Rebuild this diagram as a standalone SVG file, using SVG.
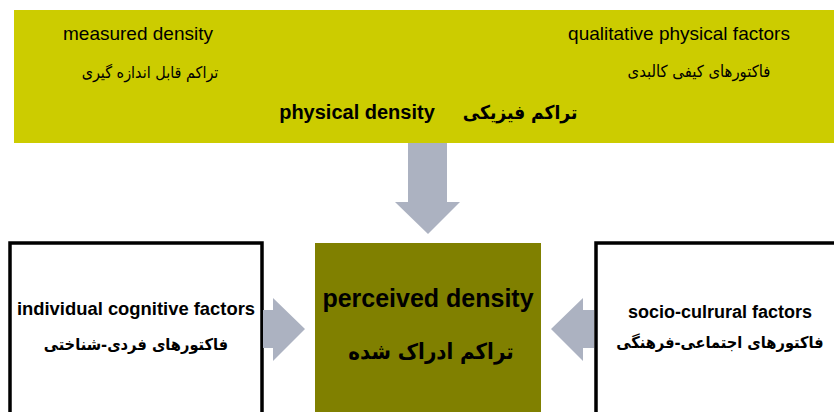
<svg xmlns="http://www.w3.org/2000/svg" width="834" height="412" viewBox="0 0 834 412">
<style>
.en{font-family:"Liberation Sans",Arial,sans-serif;fill:#000;text-anchor:middle}
.fa{font-family:"DejaVu Sans Condensed","DejaVu Sans",sans-serif;font-stretch:condensed;fill:#000;text-anchor:middle;direction:rtl}
.b{font-weight:bold}
.arrow{fill:#ACB2C1}
.box{fill:#fff;stroke:#000;stroke-width:3.5}
</style>
<rect width="834" height="412" fill="#fff"/>
<g id="physical">
<rect x="14" y="10" width="820" height="133" fill="#CCCC00"/>
<text class="en" x="138" y="40" font-size="19">measured density</text>
<text class="fa" x="150" y="78" font-size="16">تراکم قابل اندازه گیری</text>
<text class="en" x="679" y="40" font-size="19">qualitative physical factors</text>
<text class="fa" x="699" y="77" font-size="16.5">فاکتورهای کیفی کالبدی</text>
<text class="en b" x="357" y="119" font-size="20">physical density</text>
<text class="fa b" x="520" y="119" font-size="19">تراکم فیزیکی</text>
</g>
<g id="individual">
<rect class="box" x="10" y="243" width="252" height="180"/>
<text class="en b" x="136" y="315" font-size="18.4">individual cognitive factors</text>
<text class="fa b" x="136" y="350" font-size="16.3">فاکتورهای فردی-شناختی</text>
</g>
<g id="perceived">
<rect x="315" y="243" width="226" height="180" fill="#808000"/>
<text class="en b" x="428" y="307" font-size="25">perceived density</text>
<text class="fa b" x="431" y="359" font-size="22">تراکم ادراک شده</text>
</g>
<g id="socio">
<rect class="box" x="596" y="243" width="250" height="180"/>
<text class="en b" x="720" y="318" font-size="18">socio-culrural factors</text>
<text class="fa b" x="720" y="348" font-size="16.3">فاکتورهای اجتماعی-فرهنگی</text>
</g>
<g id="connectors">
<polygon class="arrow" points="408,143 447,143 447,202 460,202 428,234 395,202 408,202"/>
<polygon class="arrow" points="263,310 273,310 273,298 305,329 273,361 273,348 263,348"/>
<polygon class="arrow" points="594,310 583,310 583,298 551,329 583,361 583,348 594,348"/>
</g>
</svg>
